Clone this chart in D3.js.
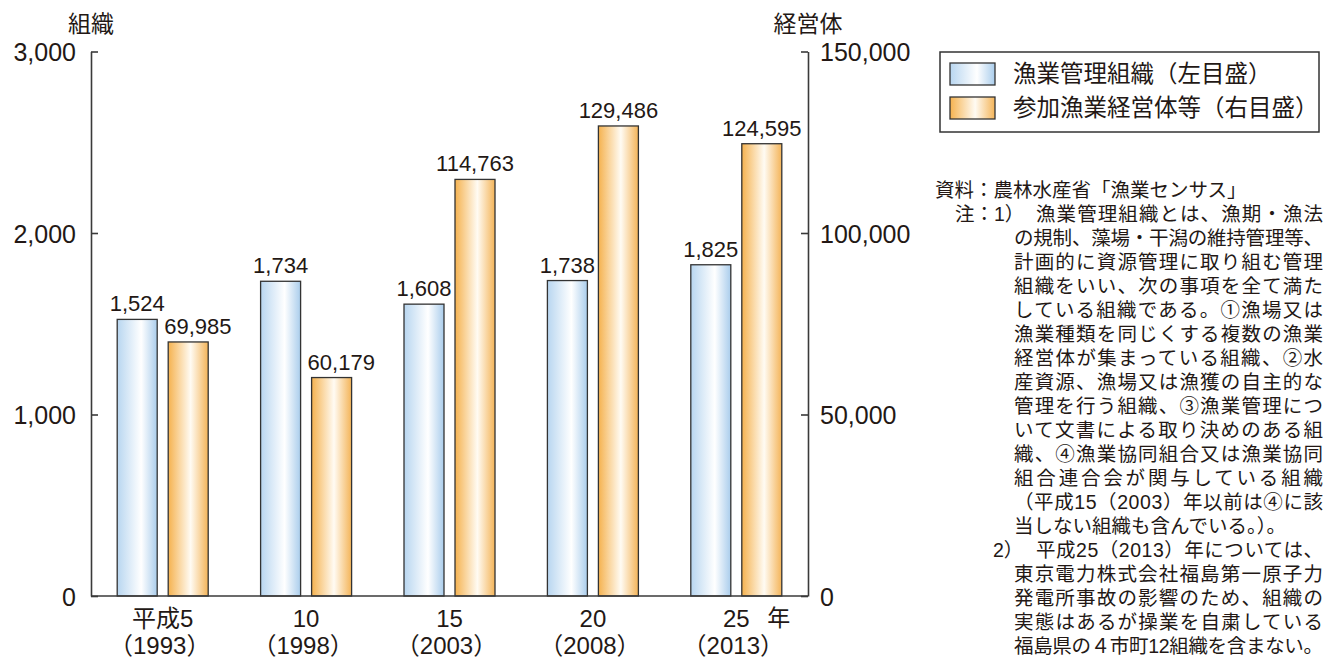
<!DOCTYPE html>
<html><head><meta charset="utf-8">
<script src="https://cdn.jsdelivr.net/npm/d3@7"></script>
<style>
html,body{margin:0;padding:0;background:#fff;}
svg{display:block;font-family:"Liberation Sans","Noto Sans CJK JP",sans-serif;}
</style></head>
<body>
<svg id="c" width="1328" height="657"></svg>
<script>
const categories = ["平成5","10","15","20","25"];
const yearLabels = ["（1993）","（1998）","（2003）","（2008）","（2013）"];
const unitLabel = "年";
const organizations = [1524,1734,1608,1738,1825];
const entities = [69985,60179,114763,129486,124595];
const leftTicks = [0,1000,2000,3000];
const rightTicks = [0,50000,100000,150000];
const leftTitle = "組織";
const rightTitle = "経営体";
const legendLabels = ["漁業管理組織（左目盛）","参加漁業経営体等（右目盛）"];
const noteLines = [
  {prefix:"", body:"資料：農林水産省「漁業センサス」", justify:false, indent:0},
  {prefix:"注：1）", body:"漁業管理組織とは、漁期・漁法", justify:true, indent:1},
  {prefix:"", body:"の規制、藻場・干潟の維持管理等、", justify:true, indent:2},
  {prefix:"", body:"計画的に資源管理に取り組む管理", justify:true, indent:2},
  {prefix:"", body:"組織をいい、次の事項を全て満た", justify:true, indent:2},
  {prefix:"", body:"している組織である。①漁場又は", justify:true, indent:2},
  {prefix:"", body:"漁業種類を同じくする複数の漁業", justify:true, indent:2},
  {prefix:"", body:"経営体が集まっている組織、②水", justify:true, indent:2},
  {prefix:"", body:"産資源、漁場又は漁獲の自主的な", justify:true, indent:2},
  {prefix:"", body:"管理を行う組織、③漁業管理につ", justify:true, indent:2},
  {prefix:"", body:"いて文書による取り決めのある組", justify:true, indent:2},
  {prefix:"", body:"織、④漁業協同組合又は漁業協同", justify:true, indent:2},
  {prefix:"", body:"組合連合会が関与している組織", justify:true, indent:2},
  {prefix:"", body:"（平成15（2003）年以前は④に該", justify:true, indent:2},
  {prefix:"", body:"当しない組織も含んでいる。）。", justify:false, indent:2},
  {prefix:"2）", body:"平成25（2013）年については、", justify:true, indent:1},
  {prefix:"", body:"東京電力株式会社福島第一原子力", justify:true, indent:2},
  {prefix:"", body:"発電所事故の影響のため、組織の", justify:true, indent:2},
  {prefix:"", body:"実態はあるが操業を自粛している", justify:true, indent:2},
  {prefix:"", body:"福島県の４市町12組織を含まない。", justify:true, indent:2}
];

const svg = d3.select("#c");
const ink = "#231815";
const axisColor = "#3a3a3a";
const plot = {left:91, right:808, top:51.5, bottom:596};

// gradients
const defs = svg.append("defs");
function grad(id, stops){
  const g = defs.append("linearGradient").attr("id", id).attr("x1","0").attr("x2","1").attr("y1","0").attr("y2","0");
  stops.forEach(s => g.append("stop").attr("offset", s[0]).attr("stop-color", s[1]));
}
grad("gBlue", [[0,"#b8d6f0"],[0.6,"#ffffff"],[1,"#aacdec"]]);
grad("gOrange", [[0,"#f5b24f"],[0.56,"#fffbf3"],[1,"#f4b458"]]);

const x = d3.scaleBand().domain(categories).range([plot.left, plot.right]).padding(0);
const inner = d3.scaleBand().domain(["org","ent"]).range([-45.5, 45.5]).paddingInner(11/51).paddingOuter(0);
const yL = d3.scaleLinear().domain([0,3000]).range([plot.bottom, plot.top]);
const yR = d3.scaleLinear().domain([0,150000]).range([plot.bottom, plot.top]);
const fmt = d3.format(",");

// bars
const groups = svg.append("g").selectAll("g").data(categories).join("g")
  .attr("transform", d => `translate(${x(d) + x.bandwidth()/2},0)`);

groups.append("rect")
  .attr("x", inner("org")).attr("width", inner.bandwidth())
  .attr("y", (d,i) => yL(organizations[i])).attr("height", (d,i) => yL(0) - yL(organizations[i]))
  .attr("fill", "url(#gBlue)").attr("stroke", "#333").attr("stroke-width", 1.3);
groups.append("rect")
  .attr("x", inner("ent")).attr("width", inner.bandwidth())
  .attr("y", (d,i) => yR(entities[i])).attr("height", (d,i) => yR(0) - yR(entities[i]))
  .attr("fill", "url(#gOrange)").attr("stroke", "#333").attr("stroke-width", 1.3);

groups.append("text")
  .attr("x", inner("org") + inner.bandwidth()/2).attr("y", (d,i) => yL(organizations[i]) - 8)
  .attr("text-anchor","middle").attr("font-size", 22).attr("fill", ink)
  .text((d,i) => fmt(organizations[i]));
// shorter (5-digit) labels sit left-aligned just inside the bar's left edge; longer ones are centred
groups.append("text")
  .attr("y", (d,i) => yR(entities[i]) - 8)
  .attr("font-size", 22).attr("fill", ink)
  .text((d,i) => fmt(entities[i]))
  .each(function(){
    const el = d3.select(this);
    const w = this.getComputedTextLength();
    const cx = inner("ent") + inner.bandwidth()/2;
    if (w < 75) el.attr("x", inner("ent") - 4).attr("text-anchor","start");
    else el.attr("x", cx).attr("text-anchor","middle");
  });

// category labels
groups.append("text")
  .attr("x", 0).attr("y", 618).attr("dominant-baseline","central")
  .attr("text-anchor","middle").attr("font-size", 24).attr("fill", ink)
  .text(d => d);
groups.append("text")
  .attr("x", -3).attr("y", 645).attr("dominant-baseline","central")
  .attr("text-anchor","middle").attr("font-size", 24).attr("fill", ink)
  .text((d,i) => yearLabels[i]);
svg.append("text")
  .attr("x", x(categories[categories.length-1]) + x.bandwidth()/2 + 31).attr("y", 618)
  .attr("dominant-baseline","central").attr("font-size", 23).attr("fill", ink)
  .text(unitLabel);

// axes
const axL = svg.append("g").attr("transform", `translate(${plot.left},0)`)
  .call(d3.axisLeft(yL).tickValues(leftTicks).tickFormat(fmt).tickSizeInner(-7).tickSizeOuter(0).tickPadding(15));
const axR = svg.append("g").attr("transform", `translate(${plot.right},0)`)
  .call(d3.axisRight(yR).tickValues(rightTicks).tickFormat(fmt).tickSizeInner(-7).tickSizeOuter(0).tickPadding(12));
[axL, axR].forEach(a => {
  a.attr("font-family", null).attr("font-size", null);
  a.selectAll("path,line").attr("stroke", axisColor).attr("stroke-width", 1.6);
  a.selectAll("text").attr("font-size", 25).attr("fill", ink).attr("dy", null).attr("dominant-baseline","central");
});
svg.append("line").attr("x1", plot.left).attr("x2", plot.right).attr("y1", yL(0)).attr("y2", yL(0))
  .attr("stroke", axisColor).attr("stroke-width", 1.6);

// axis titles
svg.append("text").attr("x", plot.left).attr("y", 24).attr("text-anchor","middle")
  .attr("dominant-baseline","central").attr("font-size", 23).attr("fill", ink).text(leftTitle);
svg.append("text").attr("x", plot.right).attr("y", 24).attr("text-anchor","middle")
  .attr("dominant-baseline","central").attr("font-size", 23).attr("fill", ink).text(rightTitle);

// legend
const lg = svg.append("g");
lg.append("rect").attr("x", 940).attr("y", 52).attr("width", 379).attr("height", 80)
  .attr("fill", "#fff").attr("stroke", "#333").attr("stroke-width", 1.5);
legendLabels.forEach((t, i) => {
  lg.append("rect").attr("x", 950).attr("y", 63 + i*34).attr("width", 45).attr("height", 22)
    .attr("fill", i === 0 ? "url(#gBlue)" : "url(#gOrange)").attr("stroke", "#333").attr("stroke-width", 1.3);
  lg.append("text").attr("x", 1013).attr("y", 74 + i*34).attr("dominant-baseline","central")
    .attr("font-size", 23.5).attr("fill", ink).text(t);
});

// notes
const notes = svg.append("g").attr("font-size", 19.5).attr("fill", ink);
const indents = [935, 1036, 1014];
noteLines.forEach((ln, i) => {
  const y = 190 + i*24;
  if (ln.prefix) {
    notes.append("text").attr("x", ln.prefix.startsWith("注") ? 955 : 993).attr("y", y)
      .attr("dominant-baseline","central").text(ln.prefix);
  }
  const bx = indents[ln.indent];
  const t = notes.append("text").attr("x", bx).attr("y", y).attr("dominant-baseline","central").text(ln.body);
  if (ln.justify) {
    t.attr("textLength", 1323 - bx).attr("lengthAdjust", "spacing");
  }
});
</script>
</body></html>
